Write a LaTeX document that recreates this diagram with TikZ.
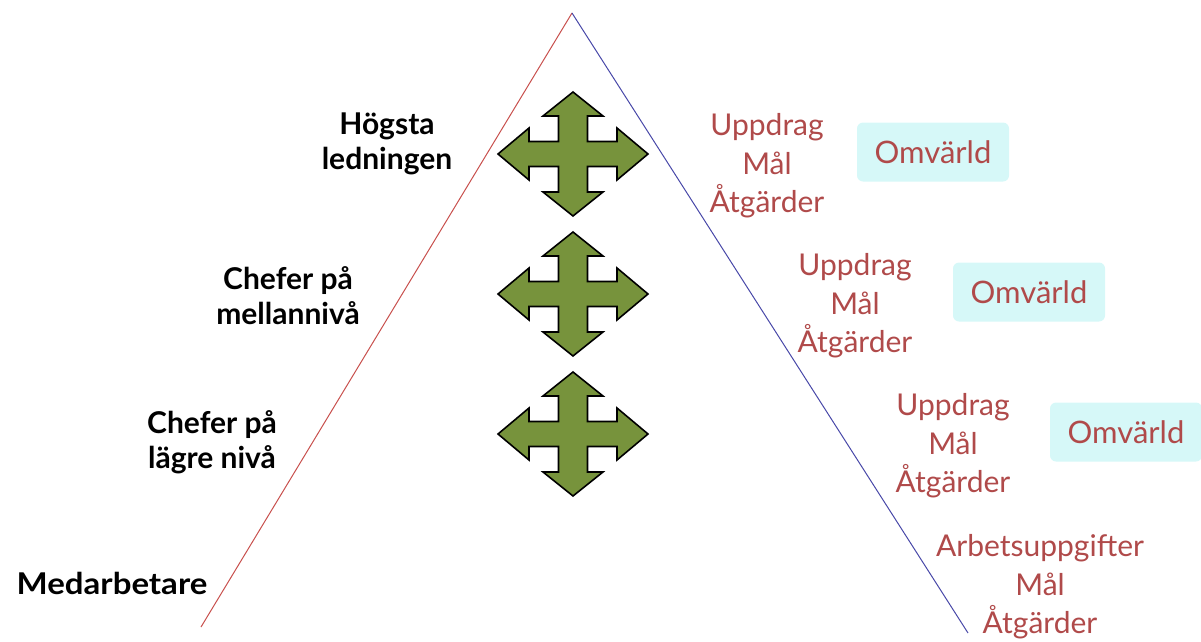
\documentclass[tikz,border=0pt]{standalone}
\usepackage{fontspec}
\setmainfont{Lato}
\definecolor{redtxt}{HTML}{B04A4A}
\definecolor{boxfill}{HTML}{D6F8F8}
\definecolor{arrowgreen}{HTML}{77933C}
\definecolor{leftline}{HTML}{C8504D}
\definecolor{rightline}{HTML}{4848A8}
\tikzset{
  lvl/.style={font=\fontsize{30}{35}\selectfont\bfseries, align=center, text=black, inner sep=0pt},
  task/.style={font=\fontsize{30}{38.5}\selectfont, align=center, text=redtxt, inner sep=0pt},
  omv/.style={font=\fontsize{31}{34}\selectfont, text=redtxt, fill=boxfill, rounded corners=6pt, minimum width=152pt, minimum height=59pt, inner sep=0pt},
  fourway/.style={fill=arrowgreen, draw=black, line width=1.6pt, line join=miter},
  pics/cross/.style={code={
    \path[fourway] (0,-62) -- (30,-38) -- (14.5,-38) -- (14.5,-12.5) -- (44,-12.5) -- (44,-26) -- (75,0)
      -- (44,26) -- (44,12.5) -- (14.5,12.5) -- (14.5,38) -- (30,38) -- (0,62) -- (-30,38) -- (-14.5,38)
      -- (-14.5,12.5) -- (-44,12.5) -- (-44,26) -- (-75,0) -- (-44,-26) -- (-44,-12.5) -- (-14.5,-12.5)
      -- (-14.5,-38) -- (-30,-38) -- cycle;
  }}
}
\begin{document}
\begin{tikzpicture}[x=1pt,y=-1pt]
\useasboundingbox (0,0) rectangle (1201,641);
% pyramid sides
\coordinate (apex) at (572,13);
\coordinate (leftend) at (201,627);
\coordinate (rightend) at (968,633);
\draw[leftline, line width=1pt] (apex) -- (leftend);
\draw[rightline, line width=1pt] (apex) -- (rightend);
% arrows
\pic at (573,154) {cross};
\pic at (573,294) {cross};
\pic at (573,434) {cross};
% level labels
\node[lvl] (l1) at (387,144) {Högsta\\ledningen};
\node[lvl] (l2) at (288,296) {Chefer på\\mellannivå};
\node[lvl] (l3) at (212,442) {Chefer på\\lägre nivå};
\node[lvl, xscale=1.1] (l4) at (112,583) {Medarbetare};
% tasks
\node[task] (t1) at (767,166) {Uppdrag\\Mål\\Åtgärder};
\node[task] (t2) at (855,306) {Uppdrag\\Mål\\Åtgärder};
\node[task] (t3) at (953,446) {Uppdrag\\Mål\\Åtgärder};
\node[task] (t4) at (1040,587) {Arbetsuppgifter\\Mål\\Åtgärder};
% environment boxes
\node[omv] (o1) at (933,152) {Omvärld};
\node[omv] (o2) at (1029,292) {Omvärld};
\node[omv] (o3) at (1126,432) {Omvärld};
\end{tikzpicture}
\end{document}
